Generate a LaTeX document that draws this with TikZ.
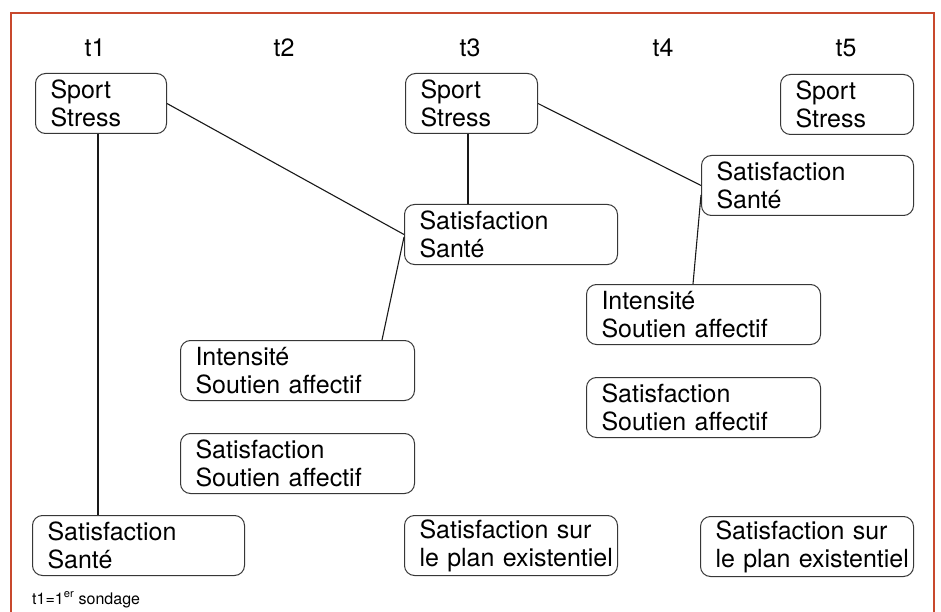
\documentclass[tikz,border=0pt]{standalone}
\usepackage{fontspec}
\setmainfont{TeX Gyre Heros}
\usetikzlibrary{calc}
\definecolor{framered}{RGB}{200,72,45}
\definecolor{boxgray}{RGB}{55,55,55}
\newcommand{\myboxfont}{\fontsize{25}{28}\selectfont}
\begin{document}
\begin{tikzpicture}[x=1pt,y=-1pt,
  box/.style={draw=boxgray, line width=1pt, rounded corners=10pt, anchor=north west,
    align=left, inner xsep=15pt, inner ysep=0pt, minimum height=60pt,
    font=\myboxfont},
  tlabel/.style={font=\fontsize{25}{28}\selectfont, inner sep=0pt},
  link/.style={line width=1.1pt, black!90}]
\useasboundingbox (0,0) rectangle (941,612);
\fill[white] (0,0) rectangle (941,612);
\draw[framered, line width=2.6pt] (11,650) -- (11,13) -- (934,13) -- (934,650);
% time labels
\node[tlabel] (t1) at (95,48) {t1};
\node[tlabel] (t2) at (284,48) {t2};
\node[tlabel] (t3) at (470,48) {t3};
\node[tlabel] (t4) at (663,48) {t4};
\node[tlabel] (t5) at (846,48) {t5};
% boxes
\node[box, minimum width=131pt, text width=101pt] (sp1) at (35,73) {Sport\\Stress};
\node[box, minimum width=132pt, text width=102pt] (sp3) at (405,73) {Sport\\Stress};
\node[box, minimum width=133pt, text width=103pt] (sp5) at (780,74) {Sport\\Stress};
\node[box, minimum width=212pt, text width=182pt] (sat4) at (701,155) {Satisfaction\\Santé};
\node[box, minimum width=213pt, text width=183pt] (sat3) at (404,204) {Satisfaction\\Santé};
\node[box, minimum width=234pt, text width=204pt] (int4) at (586,284) {Intensité\\Soutien affectif};
\node[box, minimum width=234pt, text width=204pt] (sou4) at (586,377) {Satisfaction\\Soutien affectif};
\node[box, minimum width=234pt, text width=204pt] (int2) at (180,340) {Intensité\\Soutien affectif};
\node[box, minimum width=234pt, text width=204pt] (sou2) at (180,433) {Satisfaction\\Soutien affectif};
\node[box, minimum width=212pt, text width=182pt] (sat1) at (32,515) {Satisfaction\\Santé};
\node[box, minimum width=213pt, text width=183pt] (ex3) at (404,515) {Satisfaction sur\\\mbox{le plan existentiel}};
\node[box, minimum width=213pt, text width=183pt] (ex5) at (700,516) {Satisfaction sur\\\mbox{le plan existentiel}};
% footnote
\node[anchor=base west, inner sep=0pt, font=\fontsize{16}{18}\selectfont] (note) at (32,604) {t1=1\textsuperscript{er} sondage};
% connectors
\coordinate (c1) at ($(sp1.south west)+(63,0)$);
\draw[link] (c1) -- (c1 |- sat1.north);
\draw[link] (sp1.east) -- (sat3.west);
\coordinate (c2) at ($(sat3.north west)+(0,33)$);
\coordinate (c3) at ($(int2.north west)+(202,0)$);
\draw[link] (c2) -- (c3);
\coordinate (c4) at ($(sp3.south west)+(63,0)$);
\draw[link] (c4) -- (c4 |- sat3.north);
\draw[link] (sp3.east) -- (sat4.west);
\coordinate (c5) at ($(sat4.north west)+(0,40)$);
\coordinate (c6) at ($(int4.north west)+(107,0)$);
\draw[link] (c5) -- (c6);
\end{tikzpicture}
\end{document}
